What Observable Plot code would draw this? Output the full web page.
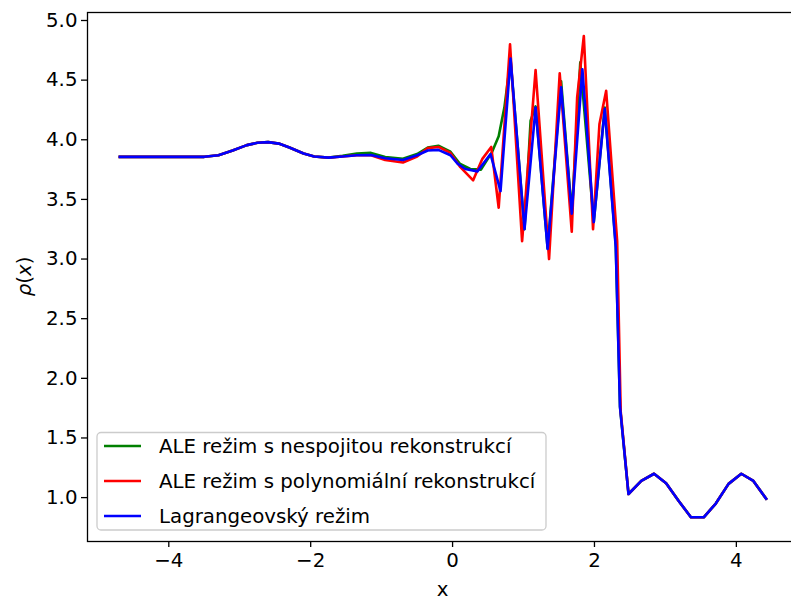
<!DOCTYPE html>
<html>
<head>
<meta charset="utf-8">
<script src="https://cdn.jsdelivr.net/npm/d3@7"></script>
<script src="https://cdn.jsdelivr.net/npm/@observablehq/plot@0.6"></script>
<style>
  html, body { margin: 0; padding: 0; background: #fff; overflow: hidden; }
  #chart { position: relative; width: 800px; height: 602px; }
  svg, svg text, svg g { font-family: "DejaVu Sans" !important; }
</style>
</head>
<body>
<div id="chart"></div>
<script>
// Lagrangeovský režim (blue)
const lagX = [-4.69,-4.4,-4.1,-3.8,-3.5,-3.3,-3.1,-2.9,-2.75,-2.6,-2.45,-2.3,-2.1,-1.95,-1.75,-1.55,-1.35,-1.15,-0.95,-0.7,-0.5,-0.35,-0.2,-0.03,0.07,0.18,0.35,0.535,0.676,0.817,1.014,1.17,1.34,1.53,1.68,1.83,1.99,2.145,2.30,2.36,2.48,2.66,2.84,3.01,3.19,3.36,3.54,3.71,3.89,4.07,4.24,4.42];
const lagY = [3.857,3.857,3.857,3.857,3.857,3.87,3.91,3.955,3.975,3.98,3.968,3.935,3.885,3.86,3.85,3.86,3.87,3.872,3.845,3.83,3.87,3.91,3.915,3.87,3.80,3.755,3.735,3.88,3.57,4.68,3.25,4.27,3.085,4.44,3.38,4.59,3.31,4.26,3.1,1.76,1.03,1.14,1.20,1.12,0.97,0.835,0.835,0.95,1.115,1.20,1.14,0.99];

// ALE režim s polynomiální rekonstrukcí (red)
const polyX = [-4.69,-4.4,-4.1,-3.8,-3.5,-3.3,-3.1,-2.9,-2.75,-2.6,-2.45,-2.3,-2.1,-1.95,-1.75,-1.55,-1.35,-1.15,-0.95,-0.7,-0.5,-0.35,-0.2,-0.03,0.11,0.29,0.42,0.545,0.65,0.81,0.98,1.17,1.36,1.51,1.68,1.756,1.85,1.98,2.07,2.165,2.32,2.37,2.48,2.66,2.84,3.01,3.19,3.36,3.54,3.71,3.89,4.07,4.24,4.42];
const polyY = [3.857,3.857,3.857,3.857,3.857,3.87,3.91,3.955,3.975,3.98,3.968,3.935,3.885,3.86,3.85,3.86,3.87,3.87,3.83,3.81,3.86,3.93,3.94,3.89,3.77,3.66,3.84,3.94,3.43,4.80,3.15,4.585,3.0,4.557,3.23,4.355,4.87,3.25,4.13,4.41,3.15,1.72,1.03,1.14,1.20,1.12,0.97,0.835,0.835,0.95,1.115,1.20,1.14,0.99];

// ALE režim s nespojitou rekonstrukcí (green)
const discX = [-4.69,-4.4,-4.1,-3.8,-3.5,-3.3,-3.1,-2.9,-2.75,-2.6,-2.45,-2.3,-2.1,-1.95,-1.75,-1.55,-1.35,-1.15,-0.95,-0.7,-0.5,-0.35,-0.2,-0.03,0.1,0.25,0.4,0.55,0.65,0.73,0.817,1.014,1.10,1.17,1.34,1.53,1.68,1.80,1.99,2.145,2.30,2.36,2.48,2.66,2.84,3.01,3.19,3.36,3.54,3.71,3.89,4.07,4.24,4.42];
const discY = [3.857,3.857,3.857,3.857,3.857,3.87,3.91,3.955,3.975,3.98,3.968,3.935,3.885,3.86,3.85,3.865,3.885,3.89,3.855,3.84,3.88,3.935,3.95,3.90,3.80,3.755,3.75,3.89,4.03,4.27,4.67,3.25,4.16,4.28,3.09,4.49,3.38,4.65,3.31,4.27,3.12,1.76,1.03,1.14,1.20,1.12,0.97,0.835,0.835,0.95,1.115,1.20,1.14,0.99];

const xTicks = [-4, -2, 0, 2, 4];
const yTicks = [1.0, 1.5, 2.0, 2.5, 3.0, 3.5, 4.0, 4.5, 5.0];

const seriesNames = ["ALE režim s nespojitou rekonstrukcí", "ALE režim s polynomiální rekonstrukcí", "Lagrangeovský režim"];
const seriesColors = ["#008000", "#ff0000", "#0000ff"];

const toRows = (xs, ys) => xs.map((x, i) => ({x, y: ys[i]}));
const series = [toRows(discX, discY), toRows(polyX, polyY), toRows(lagX, lagY)];

const FS = 19.8;
const W = 800, H = 602;
const chart = Plot.plot({
  width: W,
  height: H,
  marginLeft: 87,
  marginRight: 2,
  marginTop: 12,
  marginBottom: 61,
  style: {fontFamily: "'DejaVu Sans'", fontSize: FS + "px", color: "#000", background: "#fff"},
  x: {domain: [-5.146, 4.876]},
  y: {domain: [0.632, 5.067]},
  marks: [
    ...series.map((rows, i) => Plot.line(rows, {x: "x", y: "y", stroke: seriesColors[i], strokeWidth: 2.6, strokeLinejoin: "round", strokeLinecap: "square"})),
    Plot.frame({stroke: "#000", strokeWidth: 1.3}),
    Plot.axisX({ticks: xTicks, tickSize: 6, tickPadding: 5, fontSize: FS, strokeWidth: 1.3, label: null, tickFormat: d => d3.format("d")(d).replace("-", "−")}),
    Plot.axisY({ticks: yTicks, tickSize: 6, tickPadding: 4, fontSize: FS, strokeWidth: 1.3, label: null, tickFormat: d3.format(".1f")})
  ]
});
document.getElementById("chart").appendChild(chart);

const svg = d3.select(chart);
// axis labels
svg.append("text").attr("x", 442.5).attr("y", 596).attr("text-anchor", "middle")
  .attr("font-size", FS).attr("fill", "#000").text("x");
const yl = svg.append("text").attr("transform", "translate(31,276.5) rotate(-90)")
  .attr("text-anchor", "middle").attr("font-size", FS).attr("fill", "#000");
yl.append("tspan").attr("font-style", "italic").text("ρ");
yl.append("tspan").text("(");
yl.append("tspan").attr("font-style", "italic").text("x");
yl.append("tspan").text(")");

// legend
const lg = svg.append("g").attr("text-anchor", "start");
lg.append("rect").attr("x", 97).attr("y", 432.5).attr("width", 449).attr("height", 97.5)
  .attr("rx", 4).attr("fill", "#fff").attr("fill-opacity", 0.8)
  .attr("stroke", "#cccccc").attr("stroke-width", 1.3);
seriesNames.forEach((name, i) => {
  const cy = 446 + i * 35;
  lg.append("line").attr("x1", 104).attr("x2", 141).attr("y1", cy).attr("y2", cy)
    .attr("stroke", seriesColors[i]).attr("stroke-width", 2.6);
  lg.append("text").attr("x", 159).attr("y", cy).attr("dy", "0.36em")
    .attr("text-anchor", "start")
    .attr("font-size", FS).attr("fill", "#000").text(name);
});
</script>
</body>
</html>
